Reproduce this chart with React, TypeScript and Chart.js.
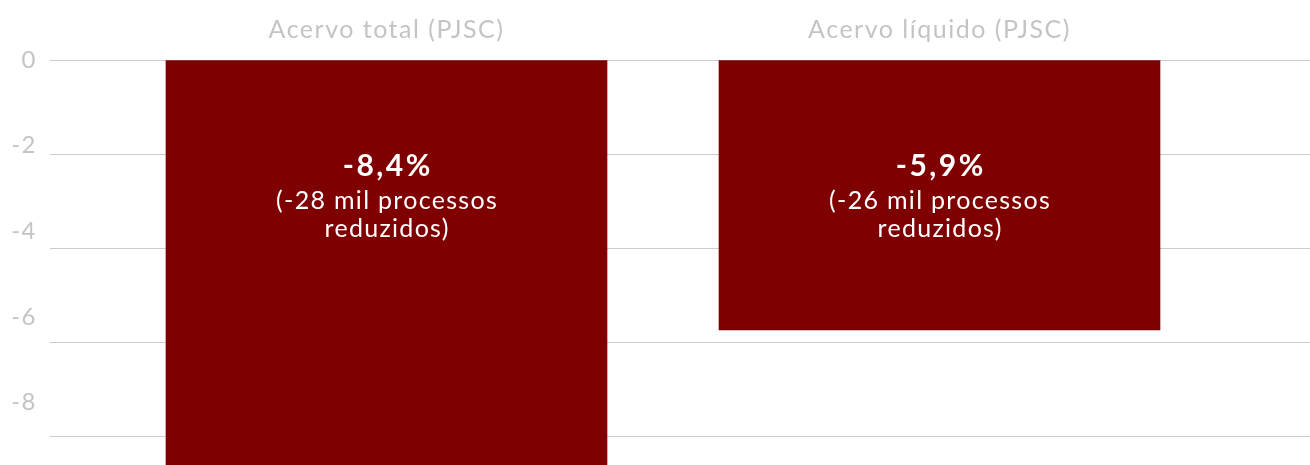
import React, { useEffect, useRef } from "react";
import { Chart, registerables } from "chart.js";

Chart.register(...registerables);

const categories = ["Acervo total (PJSC)", "Acervo líquido (PJSC)"];
const positions = [0, 1];
const values = [-8.7, -5.73];
const valueLabels = ["-8,4%", "-5,9%"];
const detailLine1 = ["(-28 mil processos", "(-26 mil processos"];
const detailLine2 = ["reduzidos)", "reduzidos)"];
const gridTicks = [0, -2, -4, -6, -8];
const labelTicks = [0, -2, -4, -6, -8];

const FONT = "Lato, 'DejaVu Sans', sans-serif";
const GREY = "#c4c4c4";
const BAR = "#7f0000";

const spacingPlugin = {
  id: "spacing",
  beforeDraw(chart: any) {
    chart.ctx.letterSpacing = "1.5px";
  },
};

const barTextPlugin = {
  id: "barText",
  afterDatasetsDraw(chart: any) {
    const ctx = chart.ctx;
    const meta = chart.getDatasetMeta(0);
    const top = chart.chartArea.top;
    ctx.save();
    ctx.fillStyle = "#ffffff";
    ctx.textAlign = "center";
    ctx.textBaseline = "alphabetic";
    meta.data.forEach((bar: any, i: number) => {
      ctx.font = `bold 30px ${FONT}`;
      ctx.letterSpacing = "2.5px";
      ctx.fillText(valueLabels[i], bar.x + 1.25, top + 116);
      ctx.font = `25px ${FONT}`;
      ctx.letterSpacing = "1.3px";
      ctx.fillText(detailLine1[i], bar.x + 0.6, top + 149);
      ctx.fillText(detailLine2[i], bar.x + 0.6, top + 177);
    });
    ctx.restore();
  },
};

export default function App() {
  const ref = useRef<HTMLCanvasElement>(null);
  useEffect(() => {
    document.body.style.margin = "0";
    const chart = new Chart(ref.current!, {
      type: "bar",
      data: {
        datasets: [
          {
            data: positions.map((x, i) => ({ x, y: values[i] })),
            xAxisID: "x",
            yAxisID: "y",
            backgroundColor: BAR,
            borderWidth: 0,
            barThickness: 441,
          },
        ],
      },
      options: {
        animation: false,
        responsive: true,
        maintainAspectRatio: false,
        layout: { padding: 0 },
        plugins: { legend: { display: false }, tooltip: { enabled: false } },
        scales: {
          x: {
            type: "linear",
            position: "top",
            offset: false,
            min: -0.6085,
            max: 1.67,
            grid: { display: false, drawTicks: false, offset: false },
            border: { display: false },
            afterBuildTicks: (scale: any) => {
              scale.ticks = positions.map((v) => ({ value: v }));
            },
            afterFit: (scale: any) => {
              scale.height = 60;
              scale.paddingLeft = 0;
              scale.paddingRight = 0;
            },
            ticks: {
              autoSkip: false,
              maxRotation: 0,
              padding: 15,
              color: GREY,
              font: { family: FONT, size: 25 },
              callback: (v: any) => categories[positions.indexOf(Number(v))] ?? "",
            },
          },
          yLabels: {
            axis: "y",
            type: "linear",
            position: "left",
            min: -9.46,
            max: 0,
            grid: { display: false, drawTicks: false },
            border: { display: false },
            afterBuildTicks: (scale: any) => {
              scale.ticks = labelTicks.map((v) => ({ value: v }));
            },
            afterFit: (scale: any) => {
              scale.width = 50;
              scale.paddingTop = 0;
              scale.paddingBottom = 0;
            },
            ticks: {
              padding: 13,
              color: GREY,
              font: { family: FONT, size: 24 },
            },
          },
          y: {
            axis: "y",
            type: "linear",
            position: "left",
            min: -8.6,
            max: 0,
            grid: { color: "#cccccc", lineWidth: 1, drawTicks: false },
            border: { display: false },
            afterBuildTicks: (scale: any) => {
              scale.ticks = gridTicks.map((v) => ({ value: v }));
            },
            afterFit: (scale: any) => {
              scale.width = 0;
              scale.paddingTop = 0;
              scale.paddingBottom = 0;
            },
            ticks: { display: false },
          },
        },
      },
      plugins: [spacingPlugin, barTextPlugin],
    } as any);
    return () => chart.destroy();
  }, []);
  return (
    <div style={{ width: 1310, height: 465, position: "relative" }}>
      <canvas ref={ref} />
    </div>
  );
}
